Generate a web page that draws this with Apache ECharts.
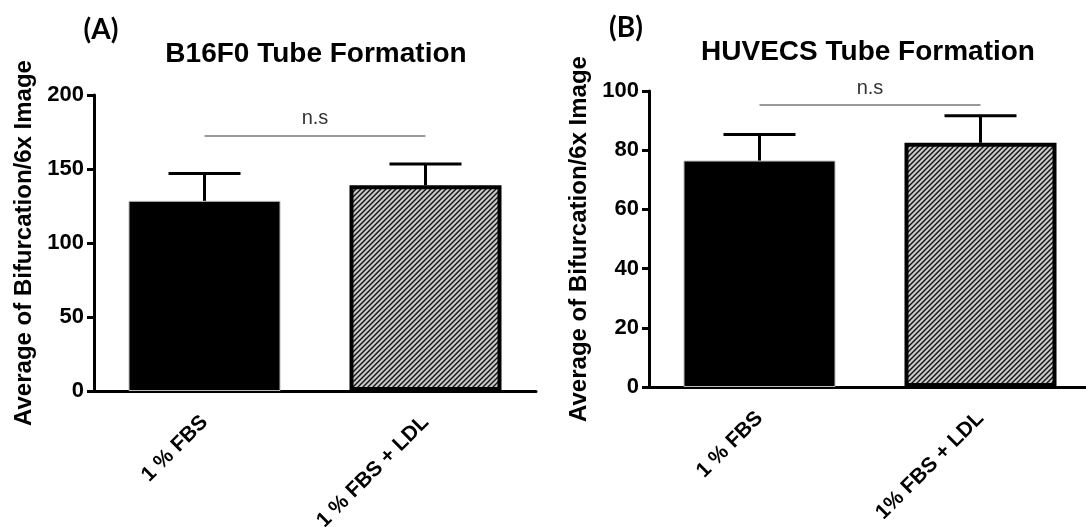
<!DOCTYPE html>
<html>
<head>
<meta charset="utf-8">
<script src="https://cdn.jsdelivr.net/npm/echarts@6/dist/echarts.min.js"></script>
<style>
  html, body { margin: 0; padding: 0; background: #fff; }
  #chart { width: 1086px; height: 527px; }
</style>
</head>
<body>
<div id="chart"></div>
<script>
// panel A: B16F0
const catsA = ['1 % FBS', '1 % FBS + LDL'];
const meanA = [128.5, 139];
const upperA = [147, 153.4];
const nsA = 172.5;
const ticksA = { min: 0, max: 200, interval: 50 };

// panel B: HUVECS
const catsB = ['1 % FBS', '1% FBS + LDL'];
const meanB = [76.5, 82.5];
const upperB = [85.3, 91.6];
const nsB = 95.2;
const ticksB = { min: 0, max: 100, interval: 20 };

const FONT = '"Liberation Sans", Arial, sans-serif';

// grey fill with black diagonal hatch
function hatch() {
  const s = 5;
  const c = document.createElement('canvas');
  c.width = s; c.height = s;
  const g = c.getContext('2d');
  g.fillStyle = '#c9c9c9';
  g.fillRect(0, 0, s, s);
  g.strokeStyle = '#111';
  g.lineWidth = 1.4;
  g.beginPath();
  g.moveTo(-1, s + 1); g.lineTo(s + 1, -1);
  g.moveTo(-1, 1); g.lineTo(1, -1);
  g.moveTo(s - 1, s + 1); g.lineTo(s + 1, s - 1);
  g.stroke();
  return c;
}
const pattern = { image: hatch(), repeat: 'repeat' };

const barStyles = [
  { color: '#000', borderColor: '#bbb', borderWidth: 1 },
  { color: pattern, borderColor: '#000', borderWidth: 4 }
];

function xAxisFor(idx, cats) {
  return {
    type: 'category', gridIndex: idx, data: cats,
    axisLine: { lineStyle: { color: '#000', width: 3 } },
    axisTick: { alignWithLabel: true, length: 7, lineStyle: { color: '#000', width: 3 } },
    axisLabel: { rotate: 45, margin: 28, color: '#000', fontWeight: 'bold', fontSize: 21, fontFamily: FONT }
  };
}

function yAxisFor(idx, t) {
  return {
    type: 'value', gridIndex: idx, min: t.min, max: t.max, interval: t.interval,
    name: 'Average of Bifurcation/6x Image', nameLocation: 'middle', nameGap: 58,
    nameTextStyle: { color: '#000', fontWeight: 'bold', fontSize: 24, fontFamily: FONT },
    axisLine: { show: true, lineStyle: { color: '#000', width: 3 } },
    axisTick: { show: true, length: 7, lineStyle: { color: '#000', width: 3 } },
    axisLabel: { margin: 10, color: '#000', fontWeight: 'bold', fontSize: 22, fontFamily: FONT },
    splitLine: { show: false }
  };
}

function barSeries(idx, cats, means, ns) {
  return {
    type: 'bar', xAxisIndex: idx, yAxisIndex: idx, barWidth: 152,
    data: means.map((v, i) => ({ value: v, itemStyle: barStyles[i] })),
    markLine: {
      silent: true, symbol: 'none',
      lineStyle: { color: '#999', width: 2, type: 'solid' },
      label: { show: true, formatter: 'n.s', position: 'insideMiddleTop', distance: 7,
        color: '#333', fontSize: 20, fontFamily: FONT },
      data: [[{ coord: [cats[0], ns] }, { coord: [cats[1], ns] }]]
    }
  };
}

function errSeries(idx, means, uppers) {
  return {
    type: 'custom', xAxisIndex: idx, yAxisIndex: idx, z: 5,
    data: means.map((m, i) => [i, m, uppers[i]]),
    renderItem: function (params, api) {
      const base = api.coord([api.value(0), api.value(1)]);
      const top = api.coord([api.value(0), api.value(2)]);
      const hw = 36;
      const st = { stroke: '#000', lineWidth: 3 };
      return {
        type: 'group',
        children: [
          { type: 'line', shape: { x1: base[0], y1: base[1], x2: top[0], y2: top[1] }, style: st },
          { type: 'line', shape: { x1: top[0] - hw, y1: top[1], x2: top[0] + hw, y2: top[1] }, style: st }
        ]
      };
    }
  };
}

const chart = echarts.init(document.getElementById('chart'));
chart.setOption({
  animation: false,
  grid: [
    { left: 94, top: 95, width: 442, height: 296, outerBoundsMode: 'none' },
    { left: 649, top: 91, width: 442, height: 296, outerBoundsMode: 'none' }
  ],
  xAxis: [xAxisFor(0, catsA), xAxisFor(1, catsB)],
  yAxis: [yAxisFor(0, ticksA), yAxisFor(1, ticksB)],
  series: [
    barSeries(0, catsA, meanA, nsA), errSeries(0, meanA, upperA),
    barSeries(1, catsB, meanB, nsB), errSeries(1, meanB, upperB)
  ],
  graphic: [
    { type: 'text', x: 101, y: 30, style: { text: '(A)', align: 'center', verticalAlign: 'middle',
      font: 'bold 28px Lato, "Open Sans", sans-serif', fill: '#000' } },
    { type: 'text', x: 626, y: 28, style: { text: '(B)', align: 'center', verticalAlign: 'middle',
      font: 'bold 28px Lato, "Open Sans", sans-serif', fill: '#000' } },
    { type: 'text', x: 316, y: 54, style: { text: 'B16F0 Tube Formation', align: 'center', verticalAlign: 'middle',
      font: 'bold 28px ' + FONT, fill: '#000' } },
    { type: 'text', x: 868, y: 52, style: { text: 'HUVECS Tube Formation', align: 'center', verticalAlign: 'middle',
      font: 'bold 28px ' + FONT, fill: '#000' } }
  ]
});
</script>
</body>
</html>
